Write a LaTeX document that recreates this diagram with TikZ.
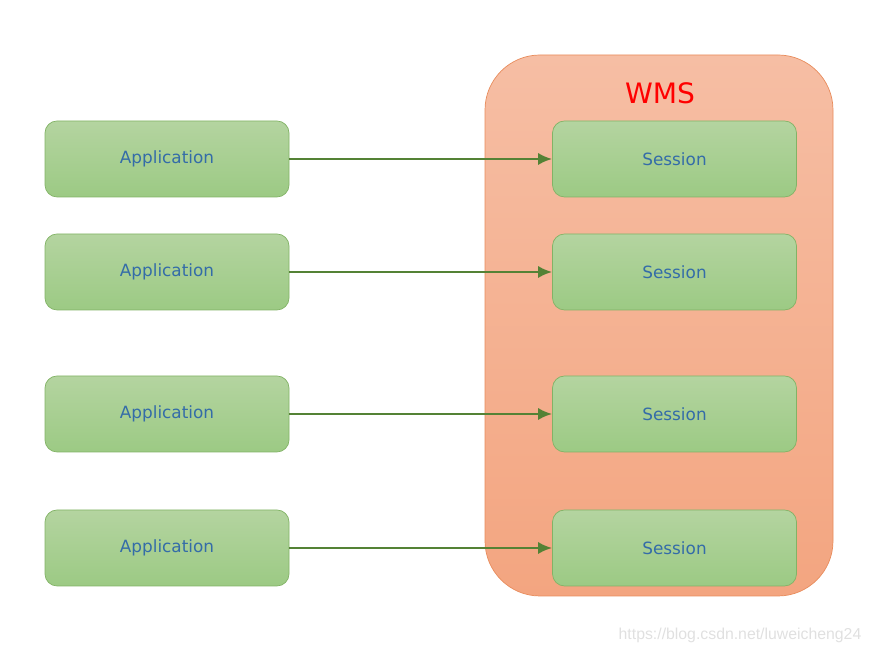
\documentclass[tikz,border=0pt]{standalone}
\usepackage{fontspec}
\setmainfont{DejaVu Sans}
\newfontfamily\wmfont{Liberation Sans}
\usepackage{tikz}
\usetikzlibrary{arrows,arrows.meta,positioning,calc,shapes}
\tikzset{>={Latex[length=8pt,width=7pt]}}
\definecolor{boxtop}{RGB}{180,212,160}
\definecolor{boxbot}{RGB}{156,202,132}
\definecolor{boxline}{RGB}{130,179,102}
\definecolor{boxtext}{RGB}{52,108,168}
\definecolor{wmstop}{RGB}{246,190,164}
\definecolor{wmsbot}{RGB}{243,165,128}
\definecolor{wmsline}{RGB}{232,140,92}
\definecolor{arrowgreen}{RGB}{84,130,53}
\tikzset{
  appbox/.style={draw=boxline, rounded corners=0.24cm, top color=boxtop, bottom color=boxbot,
    minimum width=4.88cm, minimum height=1.52cm, text=boxtext, font=\fontsize{9.6}{11}\selectfont},
}

\begin{document}
\begin{tikzpicture}
\useasboundingbox (0,0) rectangle (17.46,13.06);
\node[draw=wmsline, rounded corners=1.1cm, top color=wmstop, bottom color=wmsbot,
  minimum width=6.96cm, minimum height=10.82cm] (wms) at (13.18,6.55) {};
\node[text=red, font=\fontsize{16}{18}\selectfont] (title) at (13.2,11.2) {WMS};
\node[appbox] (a1) at (3.34,9.88) {Application};
\node[appbox] (a2) at (3.34,7.62) {Application};
\node[appbox] (a3) at (3.34,4.78) {Application};
\node[appbox] (a4) at (3.34,2.10) {Application};
\node[appbox] (s1) at (13.49,9.88) {Session};
\node[appbox] (s2) at (13.49,7.62) {Session};
\node[appbox] (s3) at (13.49,4.78) {Session};
\node[appbox] (s4) at (13.49,2.10) {Session};
\begin{scope}[line width = 1.4pt]
\draw[->,color=arrowgreen] (a1) to (s1);
\draw[->,color=arrowgreen] (a2) to (s2);
\draw[->,color=arrowgreen] (a3) to (s3);
\draw[->,color=arrowgreen] (a4) to (s4);
\end{scope}
\node[text=black!12, font=\wmfont\fontsize{9}{11}\selectfont] (mark) at (14.8,0.36) {https://blog.csdn.net/luweicheng24};
%\draw[help lines] (0,0) grid (17,13) ;
\end{tikzpicture}
\end{document}
